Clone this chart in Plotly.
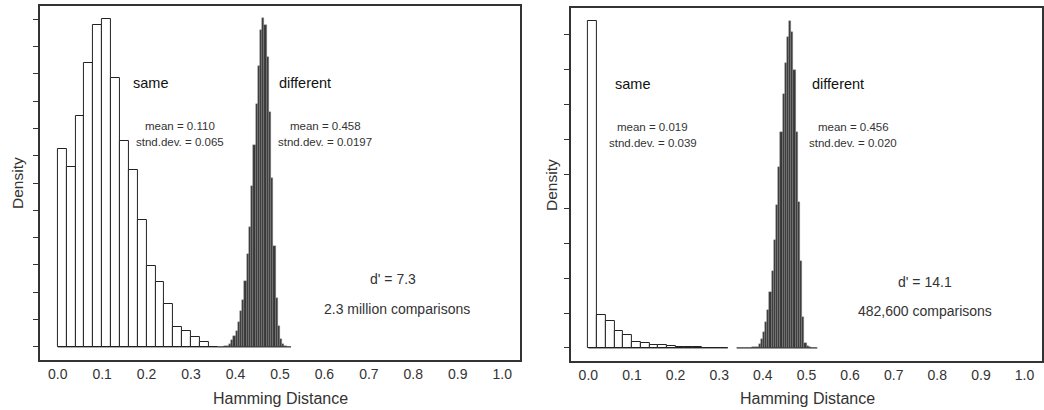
import plotly.graph_objects as go

# ---------------- data ----------------
tick_vals = [0.0, 0.1, 0.2, 0.3, 0.4, 0.5, 0.6, 0.7, 0.8, 0.9, 1.0]

# left panel: "same" histogram, bins of 0.02 starting at 0.0
left_same_start = 0.0
left_same_width = 0.02
left_same_heights = [7.23, 6.58, 8.45, 10.38, 11.78, 12.0, 9.86, 7.53, 6.46, 4.63,
                     2.95, 2.37, 1.56, 0.72, 0.60, 0.37, 0.17, 0.0]

# left panel: "different" histogram, bins of 0.005 starting at 0.36
left_diff_start = 0.36
left_diff_width = 0.005
left_diff_heights = [0.0, 0.0, 0.0,
                     0.02, 0.05, 0.1, 0.25, 0.4, 0.6, 0.9, 1.3, 1.7, 2.4,
                     3.4, 4.4, 5.9, 7.4, 8.9, 10.3, 11.6, 12.05, 11.8, 10.6,
                     8.6, 6.2, 3.7, 1.8, 0.75, 0.3, 0.1, 0.03, 0.01, 0.0]

# right panel: "same" histogram
right_same_start = 0.0
right_same_width = 0.02
right_same_heights = [9.41, 0.94, 0.77, 0.50, 0.36, 0.16, 0.14, 0.07, 0.09, 0.06,
                      0.04, 0.03, 0.02, 0.01, 0.01, 0.0]

# right panel: "different" histogram
right_diff_start = 0.34
right_diff_width = 0.005
right_diff_heights = [0.0, 0.0, 0.0, 0.0, 0.0, 0.005, 0.01, 0.015, 0.02,
                      0.03, 0.1, 0.25, 0.45, 0.75, 1.1, 1.6, 2.2, 3.1, 4.1,
                      5.2, 6.2, 7.3, 8.2, 8.95, 9.4, 9.1, 8.0, 6.2, 4.2,
                      2.5, 0.9, 0.15, 0.05, 0.02, 0.01, 0.0, 0.0]

left_text = {"same": "same", "same_stats": ["mean = 0.110", "stnd.dev. = 0.065"],
             "diff": "different", "diff_stats": ["mean = 0.458", "stnd.dev. = 0.0197"],
             "dprime": "d' = 7.3", "count": "2.3 million comparisons"}
right_text = {"same": "same", "same_stats": ["mean = 0.019", "stnd.dev. = 0.039"],
              "diff": "different", "diff_stats": ["mean = 0.456", "stnd.dev. = 0.020"],
              "dprime": "d' = 14.1", "count": "482,600 comparisons"}

left_ymax = 12.0
right_ymax = 9.4

# ---------------- figure ----------------
W, H = 1044, 410
FONT = "Liberation Sans, Arial, sans-serif"
fig = go.Figure()


def hist(start, width, heights, fill, line_col, line_w, xa, ya):
    centers = [start + (i + 0.5) * width for i in range(len(heights))]
    fig.add_trace(go.Bar(x=centers, y=heights, width=[width] * len(heights),
                         marker=dict(color=fill, line=dict(color=line_col, width=line_w)),
                         xaxis=xa, yaxis=ya, showlegend=False, hoverinfo="skip"))
    x0 = start
    x1 = start + width * len(heights)
    fig.add_trace(go.Scatter(x=[x0, x1], y=[0, 0], mode="lines",
                             line=dict(color="#222", width=1), xaxis=xa, yaxis=ya,
                             showlegend=False, hoverinfo="skip"))


hist(left_same_start, left_same_width, left_same_heights, "white", "#222", 1, "x", "y")
hist(left_diff_start, left_diff_width, left_diff_heights, "#383838", "#8a8a8a", 0.4, "x", "y")
hist(right_same_start, right_same_width, right_same_heights, "white", "#222", 1, "x2", "y2")
hist(right_diff_start, right_diff_width, right_diff_heights, "#383838", "#8a8a8a", 0.4, "x2", "y2")


def px_x(p):
    return p / W


def px_y(p):
    return 1 - p / H


xaxis_common = dict(range=[-0.04, 1.04], tickvals=tick_vals, ticktext=[f"{v:.1f}" for v in tick_vals],
                    ticks="", showgrid=False, zeroline=False, showline=True, mirror=True,
                    linecolor="#333", linewidth=1.6,
                    tickfont=dict(family=FONT, size=14, color="#333"))
yaxis_common = dict(showgrid=False, zeroline=False, showline=True, mirror=True,
                    linecolor="#333", linewidth=1.6, ticks="outside", ticklen=5,
                    tickcolor="#333", tickwidth=1, showticklabels=False, dtick=1, tick0=0)

fig.update_layout(
    width=W, height=H, margin=dict(l=0, r=0, t=0, b=0),
    paper_bgcolor="white", plot_bgcolor="white", bargap=0,
    xaxis=dict(domain=[px_x(40), px_x(521)], anchor="y", **xaxis_common),
    yaxis=dict(domain=[px_y(360), px_y(6)], anchor="x",
               range=[-0.04 * left_ymax, 1.04 * left_ymax], **yaxis_common),
    xaxis2=dict(domain=[px_x(572), 1.0], anchor="y2", **xaxis_common),
    yaxis2=dict(domain=[px_y(361), px_y(8)], anchor="x2",
                range=[-0.04 * right_ymax, 1.04 * right_ymax], **yaxis_common),
)

ann = []


def txt(x, y, s, size, color="#333", angle=0):
    ann.append(dict(x=px_x(x), y=px_y(y), xref="paper", yref="paper", text=s,
                    showarrow=False, xanchor="center", yanchor="middle", textangle=angle,
                    font=dict(family=FONT, size=size, color=color)))


# left panel texts
txt(151, 83, left_text["same"], 14.5, "#111")
txt(180, 126, left_text["same_stats"][0], 11.5)
txt(180, 142, left_text["same_stats"][1], 11.5)
txt(306, 83, left_text["diff"], 14.5, "#111")
txt(326, 126, left_text["diff_stats"][0], 11.5)
txt(326, 142, left_text["diff_stats"][1], 11.5)
txt(394, 279, left_text["dprime"], 14)
txt(398, 309, left_text["count"], 14)
txt(281, 398, "Hamming Distance", 16)
txt(18, 183, "Density", 15.5, "#333", -90)

# right panel texts
txt(634, 84, right_text["same"], 14.5, "#111")
txt(654, 127, right_text["same_stats"][0], 11.5)
txt(654, 143, right_text["same_stats"][1], 11.5)
txt(840, 84, right_text["diff"], 14.5, "#111")
txt(855, 127, right_text["diff_stats"][0], 11.5)
txt(855, 143, right_text["diff_stats"][1], 11.5)
txt(927, 282, right_text["dprime"], 14)
txt(927, 311, right_text["count"], 14)
txt(809, 398, "Hamming Distance", 16)
txt(553, 185, "Density", 15.5, "#333", -90)

fig.update_layout(annotations=ann)
fig.write_html("out.html", config={"displayModeBar": False},
               post_script="document.body.style.margin='0';document.body.style.padding='0';")
